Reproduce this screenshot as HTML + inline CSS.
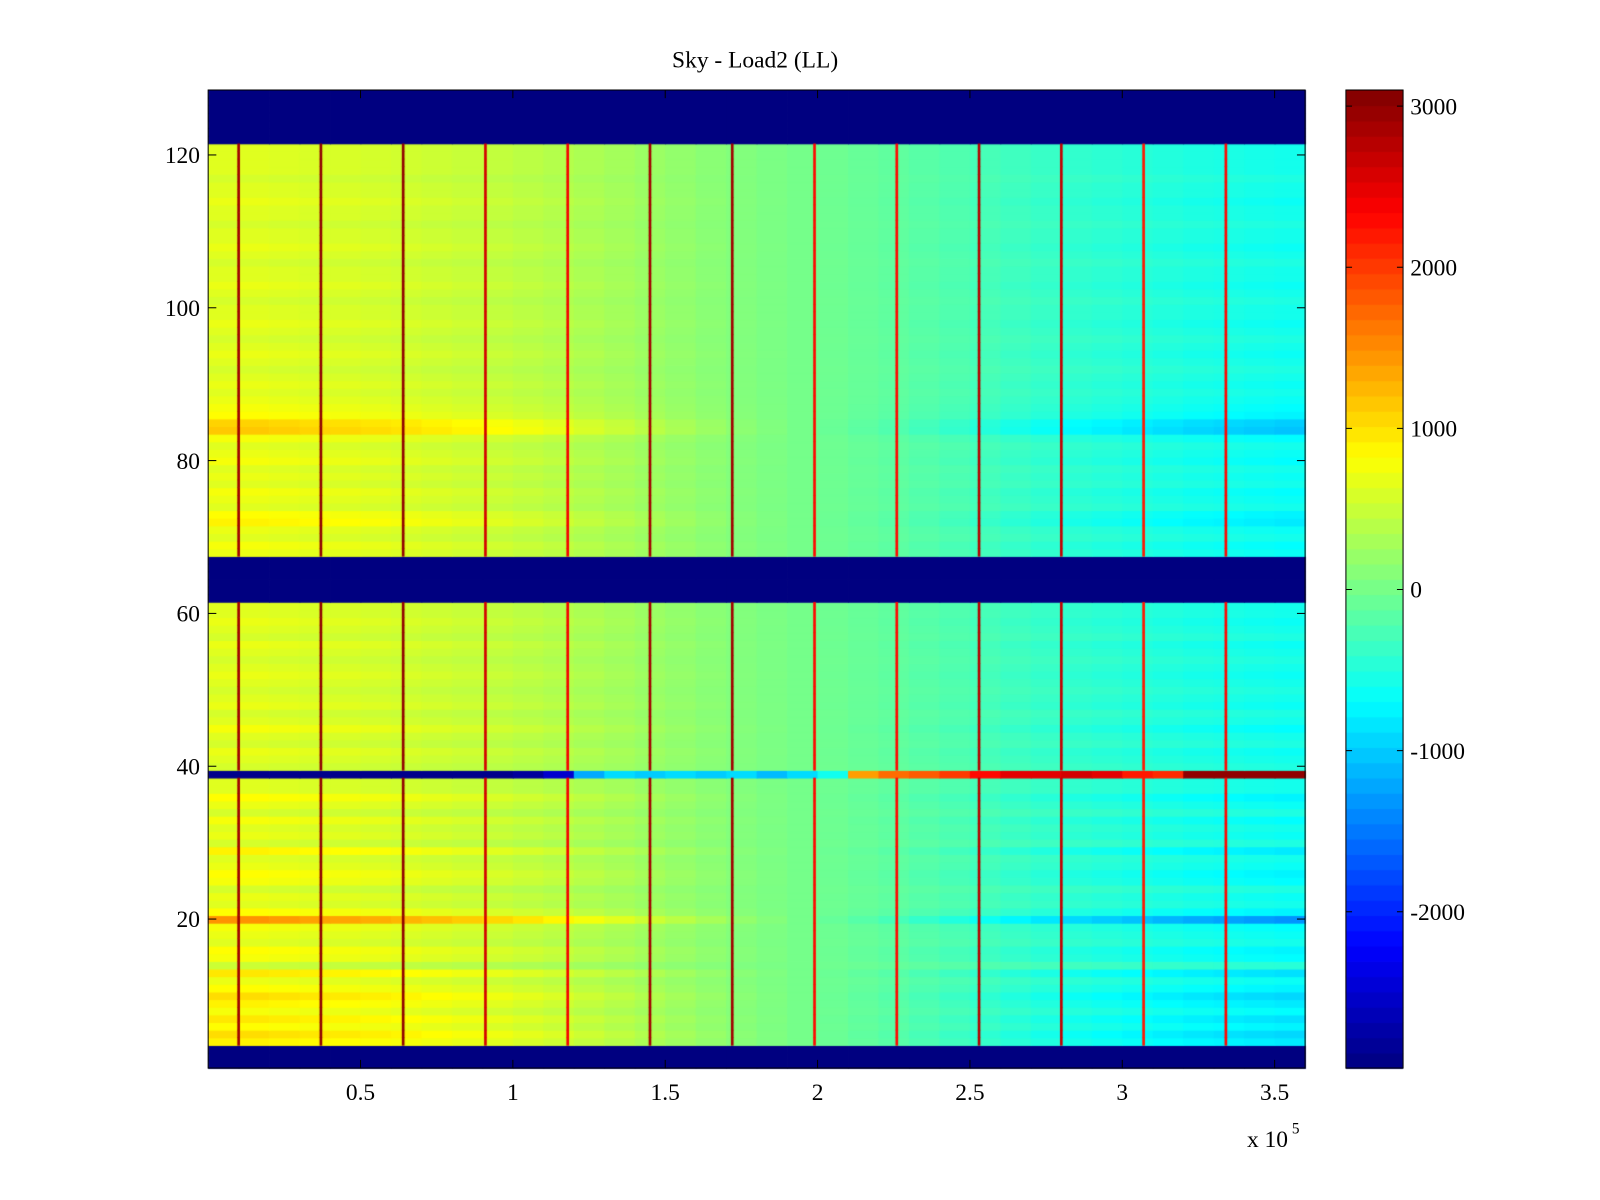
<!DOCTYPE html>
<html>
<head>
<meta charset="utf-8">
<style>
html,body{margin:0;padding:0;background:#fff;}
#wrap{position:relative;width:1600px;height:1200px;background:#fff;font-family:"Liberation Serif",serif;}
canvas{position:absolute;left:0;top:0;}
svg{position:absolute;left:0;top:0;}
</style>
</head>
<body>
<div id="wrap">
<canvas id="cv" width="1600" height="1200"></canvas>
<svg id="sv" width="1600" height="1200" viewBox="0 0 1568 1176"></svg>
</div>
<script>
// ---- data ----
const xBinWidth = 10000; // x units per column bin
const colBase = [640,640,620,600,590,570,550,520,490,460,420,380,330,280,230,180,130,80,40,0,-40,-80,-120,-170,-220,-270,-320,-360,-400,-430,-460,-490,-520,-540,-560,-580];
const rowGain = [0,0,0,
 1.4,1.6,1.3,1.5,1.2,1.4,1.6,1.3,1.1,1.5,0.8,1.2,1.3,1.0,1.1,1.2,2.3,1.3,1.0,1.1,0.9,1.2,1.3,1.1,1.0,1.4,0.9,1.1,1.0,1.2,0.9,1.1,1.3,1.0,1.0,
 0,
 0.9,1.0,1.1,0.9,1.0,1.2,1.0,0.9,1.1,1.0,0.9,1.0,1.1,1.0,0.9,1.0,1.1,0.9,1.0,1.1,1.0,1.0,
 0,0,0,0,0,0,
 1.1,1.2,1.0,1.1,1.4,1.3,1.0,1.1,1.2,1.0,1.1,1.0,1.2,1.1,1.0,1.2,1.8,1.7,1.3,1.2,1.1,1.0,1.1,1.0,0.9,1.0,1.1,1.0,0.9,1.0,1.1,1.0,1.0,0.9,1.0,1.1,1.0,1.0,0.9,1.0,1.1,1.0,1.0,0.9,1.0,1.0,1.1,1.0,1.0,0.9,1.0,1.0,1.0,1.0,
 0,0,0,0,0,0,0];
const maskedRows = [1,2,3,62,63,64,65,66,67,122,123,124,125,126,127,128];
const row39Row = 39;
const row39 = [-2900,-2900,-2900,-2900,-2900,-2900,-2900,-2900,-2900,-2900,-2800,-2500,-1200,-900,-1000,-900,-1000,-900,-1100,-900,-600,1400,1700,1800,2000,2300,2500,2500,2600,2500,2200,2100,3000,3000,3000,3000];
const stripeX = [10000,37000,64000,91000,118000,145000,172000,199000,226000,253000,280000,307000,334000];
const stripeVal = [2900,3000,3000,2600,2400,2900,2900,2300,2300,2800,2700,2200,2300];
const xTicks = [0.5,1,1.5,2,2.5,3,3.5];
const yTicks = [20,40,60,80,100,120];
const cTicks = [3000,2000,1000,0,-1000,-2000];
const cMin = -2970, cMax = 3100;
const title = "Sky - Load2 (LL)";

// ---- scales (in 1568x1176 design units, scaled to 1600x1200) ----
const S = 1600/1568;
const PL=204, PR=1279, PT=88.2, PB=1046.7;
const xMax = 360000;
function xs(v){return PL+(v/xMax)*(PR-PL);}
function ys(r){return PB-(r-0.5)/128*(PB-PT);}
function jet(t){
  t=Math.max(0,Math.min(1,t));
  const r=Math.max(0,Math.min(1,1.5-Math.abs(4*t-3)));
  const g=Math.max(0,Math.min(1,1.5-Math.abs(4*t-2)));
  const b=Math.max(0,Math.min(1,1.5-Math.abs(4*t-1)));
  return `rgb(${Math.round(r*255)},${Math.round(g*255)},${Math.round(b*255)})`;
}
function col(v){return jet((v-cMin)/(cMax-cMin));}

// ---- heatmap ----
const cv=document.getElementById('cv');
const ctx=cv.getContext('2d');
ctx.setTransform(S,0,0,S,0,0);
for(let r=1;r<=128;r++){
  const y0=ys(r+0.5), y1=ys(r-0.5);
  for(let c=0;c<colBase.length;c++){
    let v;
    if(maskedRows.includes(r)) v=cMin;
    else if(r===row39Row) v=row39[c];
    else v=colBase[c]*rowGain[r-1];
    const x0=xs(c*xBinWidth), x1=xs((c+1)*xBinWidth);
    ctx.fillStyle=col(v);
    ctx.fillRect(x0,y0,x1-x0+0.8,y1-y0+0.8);
  }
}
// stripes
for(let i=0;i<stripeX.length;i++){
  const x=xs(stripeX[i]);
  ctx.fillStyle=col(stripeVal[i]);
  for(let r=1;r<=128;r++){
    if(maskedRows.includes(r)||r===row39Row) continue;
    ctx.fillRect(x-1.3,ys(r+0.5),2.6,ys(r-0.5)-ys(r+0.5)+0.5);
  }
}
// colorbar
const CL=1319, CR=1375;
const nLev=64;
for(let i=0;i<nLev;i++){
  const y0=PB-(i+1)/nLev*(PB-PT), y1=PB-i/nLev*(PB-PT);
  ctx.fillStyle=jet((i+0.5)/nLev);
  ctx.fillRect(CL,y0,CR-CL,y1-y0+0.8);
}

// ---- axes (svg) ----
const sv=document.getElementById('sv');
const NS='http://www.w3.org/2000/svg';
function mk(tag,attrs,text){
  const e=document.createElementNS(NS,tag);
  for(const k in attrs) e.setAttribute(k,attrs[k]);
  if(text!==undefined) e.textContent=text;
  sv.appendChild(e);return e;
}
let e;
e=mk('rect',{x:PL,y:PT,width:PR-PL,height:PB-PT,fill:'none',stroke:'#000','stroke-width':1});


e=mk('rect',{x:CL,y:PT,width:CR-CL,height:PB-PT,fill:'none',stroke:'#000','stroke-width':1});


e=mk('text',{x:740,y:66,'text-anchor':'middle','font-size':23,'font-family':'Liberation Serif, serif'},title);


xTicks.forEach(t=>{
  const x=xs(t*1e5);
  mk('line',{x1:x,x2:x,y1:PB,y2:PB-8,stroke:'#000'});
  mk('line',{x1:x,x2:x,y1:PT,y2:PT+8,stroke:'#000'});
  e=mk('text',{x:x,y:1078,'text-anchor':'middle','font-size':23,'font-family':'Liberation Serif, serif'},String(t));
  
  
});
e=mk('text',{x:1222,y:1124,'font-size':23,'font-family':'Liberation Serif, serif'},'x 10');


mk('text',{x:1266,y:1111,'font-size':15,'font-family':'Liberation Serif, serif'},'5');
yTicks.forEach(t=>{
  const y=ys(t);
  mk('line',{x1:PL,x2:PL+8,y1:y,y2:y,stroke:'#000'});
  mk('line',{x1:PR,x2:PR-8,y1:y,y2:y,stroke:'#000'});
  e=mk('text',{x:196,y:y+8,'text-anchor':'end','font-size':23,'font-family':'Liberation Serif, serif'},String(t));
  
  
});
cTicks.forEach(t=>{
  const y=PB-(t-cMin)/(cMax-cMin)*(PB-PT);
  mk('line',{x1:CL,x2:CL+6,y1:y,y2:y,stroke:'#000'});
  mk('line',{x1:CR,x2:CR-6,y1:y,y2:y,stroke:'#000'});
  e=mk('text',{x:1382,y:y+8,'font-size':23,'font-family':'Liberation Serif, serif'},String(t));
  
  
});
</script>
</body>
</html>
